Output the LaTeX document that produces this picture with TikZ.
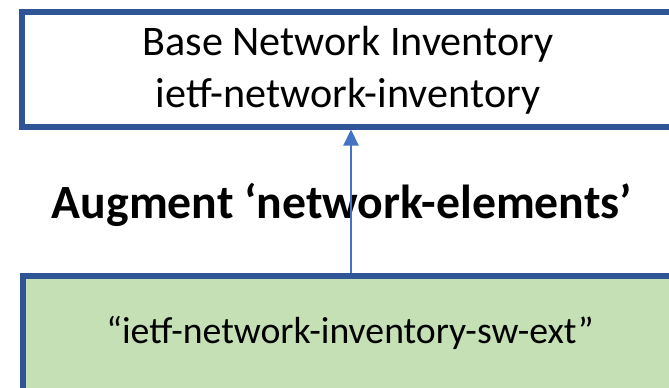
\documentclass[tikz,border=0pt]{standalone}
\usepackage{fontspec}
\setmainfont{Carlito}
\usetikzlibrary{arrows.meta}
\definecolor{boxblue}{HTML}{2F5597}
\definecolor{boxgreen}{HTML}{C5E0B4}
\definecolor{arrowblue}{HTML}{4472C4}
\tikzset{
  box/.style={draw=boxblue, line width=4.6pt, rectangle, anchor=north west, inner sep=0pt},
  txt/.style={anchor=base, inner sep=0pt, text=black},
  link/.style={draw=arrowblue, line width=1.4pt, -{Triangle[length=12pt,width=11.5pt]}}
}
\begin{document}
\begin{tikzpicture}[x=0.75pt, y=-0.75pt]
\useasboundingbox (0,0) rectangle (669,387);
\clip (0,0) rectangle (669,387);
\node[box, fill=white, minimum width=690pt, minimum height=86.25pt] (top) at (19,8.5) {};
\node[box, fill=boxgreen, minimum width=690pt, minimum height=90pt] (bot) at (20,272.5) {};
\coordinate (ax) at (351,0);
\node[txt, font=\fontsize{31.6}{39}\selectfont] (t1) at (348,55) {Base Network Inventory};
\node[txt, font=\fontsize{31.6}{39}\selectfont] (t2) at (348,107) {ietf-network-inventory};
\node[txt, font=\fontsize{35.8}{42}\selectfont\bfseries] (mid) at (342,218) {Augment ‘network-elements’};
\node[txt, font=\fontsize{28.3}{34}\selectfont] (b1) at (350,343) {“ietf-network-inventory-sw-ext”};
\draw[link] (bot.north -| ax) -- (top.south -| ax);
\end{tikzpicture}
\end{document}
